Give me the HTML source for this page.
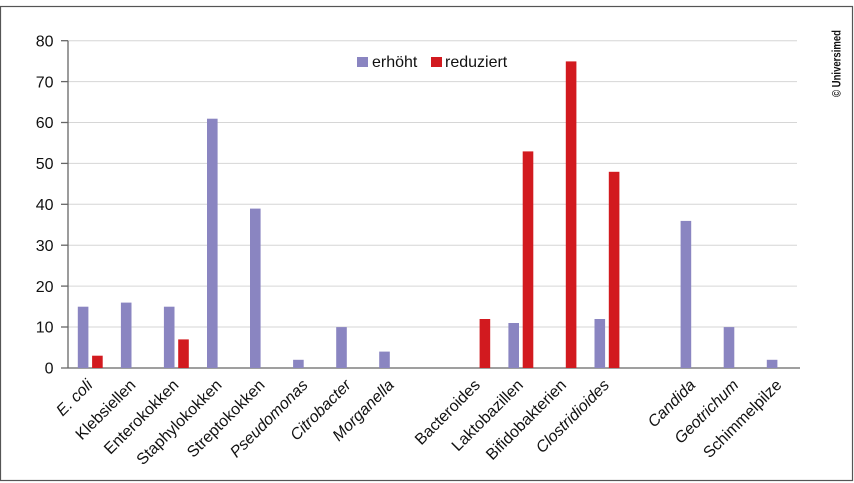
<!DOCTYPE html>
<html><head><meta charset="utf-8"><style>
html,body{margin:0;padding:0;background:#fff;}
svg{display:block;}
text{font-family:"Liberation Sans",sans-serif;fill:#111;}
</style></head><body>
<svg width="854" height="483" viewBox="0 0 854 483" xmlns="http://www.w3.org/2000/svg">
<rect x="0.5" y="6.5" width="852" height="474" fill="#fff" stroke="#555" stroke-width="1.2"/>
<g stroke="#d6d6d6" stroke-width="1">
<line x1="68" y1="40.7" x2="797" y2="40.7"/>
<line x1="68" y1="81.6" x2="797" y2="81.6"/>
<line x1="68" y1="122.5" x2="797" y2="122.5"/>
<line x1="68" y1="163.4" x2="797" y2="163.4"/>
<line x1="68" y1="204.3" x2="797" y2="204.3"/>
<line x1="68" y1="245.2" x2="797" y2="245.2"/>
<line x1="68" y1="286.1" x2="797" y2="286.1"/>
<line x1="68" y1="327.0" x2="797" y2="327.0"/>
</g>
<g stroke="#666" stroke-width="1.3">
<line x1="68" y1="40.7" x2="68" y2="368"/>
<line x1="61" y1="368" x2="800" y2="368"/>
<line x1="61" y1="40.7" x2="68" y2="40.7"/>
<line x1="61" y1="81.6" x2="68" y2="81.6"/>
<line x1="61" y1="122.5" x2="68" y2="122.5"/>
<line x1="61" y1="163.4" x2="68" y2="163.4"/>
<line x1="61" y1="204.3" x2="68" y2="204.3"/>
<line x1="61" y1="245.2" x2="68" y2="245.2"/>
<line x1="61" y1="286.1" x2="68" y2="286.1"/>
<line x1="61" y1="327.0" x2="68" y2="327.0"/>
</g>
<g font-size="16" text-anchor="end">
<text x="53.5" y="46.4">80</text>
<text x="53.5" y="87.3">70</text>
<text x="53.5" y="128.2">60</text>
<text x="53.5" y="169.1">50</text>
<text x="53.5" y="210">40</text>
<text x="53.5" y="250.9">30</text>
<text x="53.5" y="291.8">20</text>
<text x="53.5" y="332.7">10</text>
<text x="53.5" y="373.7">0</text>
</g>
<g fill="#8a85c1">
<rect x="77.8" y="306.7" width="10.6" height="61.3"/>
<rect x="120.9" y="302.6" width="10.6" height="65.4"/>
<rect x="163.9" y="306.7" width="10.6" height="61.3"/>
<rect x="207.0" y="118.7" width="10.6" height="249.3"/>
<rect x="250.0" y="208.6" width="10.6" height="159.4"/>
<rect x="293.1" y="359.8" width="10.6" height="8.2"/>
<rect x="336.2" y="327.1" width="10.6" height="40.9"/>
<rect x="379.2" y="351.6" width="10.6" height="16.4"/>
<rect x="508.4" y="323.0" width="10.6" height="45.0"/>
<rect x="594.5" y="319.0" width="10.6" height="49.0"/>
<rect x="680.6" y="220.9" width="10.6" height="147.1"/>
<rect x="723.7" y="327.1" width="10.6" height="40.9"/>
<rect x="766.8" y="359.8" width="10.6" height="8.2"/>
</g>
<g fill="#d21a1f">
<rect x="92.1" y="355.7" width="10.6" height="12.3"/>
<rect x="178.2" y="339.4" width="10.6" height="28.6"/>
<rect x="479.6" y="319.0" width="10.6" height="49.0"/>
<rect x="522.7" y="151.4" width="10.6" height="216.6"/>
<rect x="565.8" y="61.4" width="10.6" height="306.6"/>
<rect x="608.8" y="171.8" width="10.6" height="196.2"/>
</g>
<rect x="357" y="57" width="11" height="10" fill="#8a85c1"/>
<text x="372" y="67" font-size="16">erhöht</text>
<rect x="431" y="57" width="11" height="10" fill="#d21a1f"/>
<text x="445" y="67" font-size="16">reduziert</text>
<g font-size="16" text-anchor="end">
<text transform="translate(93.5,386) rotate(-45)" font-style="italic">E. coli</text>
<text transform="translate(136.6,386) rotate(-45)">Klebsiellen</text>
<text transform="translate(179.6,386) rotate(-45)">Enterokokken</text>
<text transform="translate(222.7,386) rotate(-45)">Staphylokokken</text>
<text transform="translate(265.7,386) rotate(-45)">Streptokokken</text>
<text transform="translate(308.8,386) rotate(-45)" font-style="italic">Pseudomonas</text>
<text transform="translate(351.9,386) rotate(-45)" font-style="italic">Citrobacter</text>
<text transform="translate(394.9,386) rotate(-45)" font-style="italic">Morganella</text>
<text transform="translate(481.0,386) rotate(-45)">Bacteroides</text>
<text transform="translate(524.1,386) rotate(-45)">Laktobazillen</text>
<text transform="translate(567.2,386) rotate(-45)">Bifidobakterien</text>
<text transform="translate(610.2,386) rotate(-45)" font-style="italic">Clostridioides</text>
<text transform="translate(696.3,386) rotate(-45)" font-style="italic">Candida</text>
<text transform="translate(739.4,386) rotate(-45)" font-style="italic">Geotrichum</text>
<text transform="translate(782.5,386) rotate(-45)">Schimmelpilze</text>
</g>
<text transform="translate(840.5,63.5) rotate(-90)" text-anchor="middle" font-size="12" font-weight="bold" textLength="67" lengthAdjust="spacingAndGlyphs">© Universimed</text>
</svg>
</body></html>
